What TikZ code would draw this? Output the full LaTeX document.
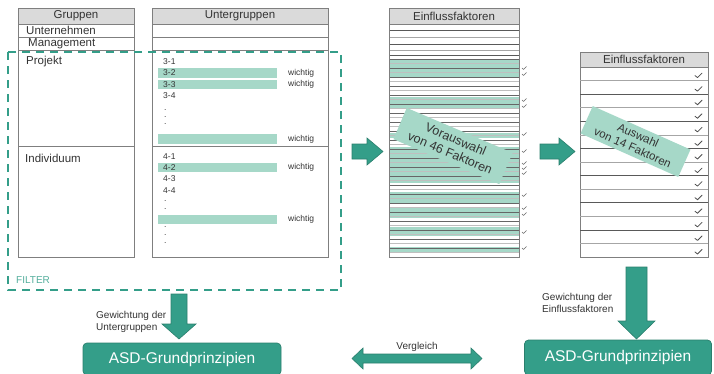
\documentclass[tikz,border=0pt]{standalone}
\usepackage{fontspec}
\setmainfont{Liberation Sans}
\definecolor{tealA}{HTML}{349E89}
\definecolor{tealD}{HTML}{2A7F6D}
\definecolor{lgreen}{HTML}{A6D8C8}
\definecolor{hdr}{HTML}{DADADA}
\definecolor{bord}{HTML}{7F7F7F}
\definecolor{txt}{HTML}{333333}
\begin{document}
\begin{tikzpicture}[x=1pt,y=-1pt,
  tbl/.style={draw=bord, line width=0.8pt},
  hdrtxt/.style={font=\fontsize{11.5}{13}\selectfont, text=txt, inner sep=0},
  lbl/.style={font=\fontsize{11.5}{13}\selectfont, text=txt, anchor=west, inner sep=0},
  small/.style={font=\fontsize{8.5}{10}\selectfont, text=txt, anchor=west, inner sep=0},
  bar/.style={fill=lgreen, draw=none},
  blockarrow/.style={fill=tealA, draw=tealD, line width=0.6pt},
  rotbox/.style={fill=lgreen, align=center, text=txt, inner sep=0},
  asd/.style={fill=tealA, draw=tealD, line width=0.7pt, rounded corners=4pt, text=white, font=\fontsize{15.5}{17}\selectfont},
  chk/.style={draw=black!60, line width=0.6pt, line cap=round, line join=round},
  bigchk/.style={draw=black!70, line width=0.8pt, line cap=round, line join=round},
  note/.style={font=\fontsize{10}{12.5}\selectfont, text=txt, align=left, inner sep=0}
]
\useasboundingbox (0,0) rectangle (714,373);

% ---------------- Gruppen table
\draw[tbl, fill=hdr] (18,8) rectangle (134,24);
\node[hdrtxt] (hG) at (76,16) {Gruppen};
\draw[tbl] (18,24) rectangle (134,257);
\foreach \yy in {37,50,146} \draw[tbl] (18,\yy) -- (134,\yy);
\node[lbl] (gU) at (26,30.5) {Unternehmen};
\node[lbl] (gM) at (28,44) {Management};
\node[lbl] (gP) at (26,62) {Projekt};
\node[lbl] (gI) at (25,158) {Individuum};

% ---------------- Untergruppen table
\draw[tbl, fill=hdr] (152,8) rectangle (328,24);
\node[hdrtxt] (hU) at (240,16) {Untergruppen};
\draw[tbl] (152,24) rectangle (328,257);
\foreach \yy in {37,50,146} \draw[tbl] (152,\yy) -- (328,\yy);
% bars
\fill[bar] (158,68) rectangle (277,78);
\fill[bar] (158,79.5) rectangle (277,89);
\fill[bar] (158,134) rectangle (277,144);
\fill[bar] (158,163) rectangle (277,172);
\fill[bar] (158,215) rectangle (277,223.5);
\node[small] (s31) at (163,62) {3-1};
\node[small] (s32) at (163,73) {3-2};
\node[small] (s33) at (163,84.5) {3-3};
\node[small] (s34) at (163,96) {3-4};
\foreach \yy/\nm in {110/d1,117/d2,124/d3} \node[small] (\nm) at (164,\yy) {.};
\node[small] (w1) at (288,73) {wichtig};
\node[small] (w2) at (288,84.5) {wichtig};
\node[small] (w3) at (288,139) {wichtig};
\node[small] (s41) at (163,157) {4-1};
\node[small] (s42) at (163,167.5) {4-2};
\node[small] (s43) at (163,179) {4-3};
\node[small] (s44) at (163,191) {4-4};
\foreach \yy/\nm in {201/e1,209/e2,227/e3,235/e4,243/e5} \node[small] (\nm) at (164,\yy) {.};
\node[small] (w4) at (288,167.5) {wichtig};
\node[small] (w5) at (288,219) {wichtig};

% ---------------- FILTER dashed box
\draw[tealA, line width=2.2pt, dash pattern=on 8pt off 6pt] (8,52) rectangle (341,290);
\node[font=\fontsize{10}{12}\selectfont, text=tealA!85, anchor=west, inner sep=0] (filt) at (16,280.5) {FILTER};

% ---------------- arrow 1
\draw[blockarrow] (352,144) -- (367,144) -- (367,138) -- (383,151.5) -- (367,165) -- (367,159) -- (352,159) -- cycle;

% ---------------- middle table (46)
\fill[lgreen] (389,59) rectangle (519,78);
\fill[lgreen] (389,97) rectangle (519,109);
\fill[lgreen] (389,133) rectangle (519,138);
\fill[lgreen] (389,147) rectangle (519,183);
\fill[lgreen] (389,192) rectangle (519,204);
\fill[lgreen] (389,207) rectangle (519,218);
\fill[lgreen] (389,227) rectangle (519,236);
\fill[lgreen] (389,247) rectangle (519,252);
\foreach \yy in {30.5,44,55} \draw[black!65, line width=0.6pt] (389,\yy) -- (519,\yy);
\foreach \yy in {37,50} \draw[black!35, line width=0.6pt] (389,\yy) -- (519,\yy);
\foreach \k in {0,...,21} {
  \draw[black!60, line width=0.55pt] (389,59+9*\k) -- (519,59+9*\k);
  \draw[black!25, line width=0.5pt] (389,63.5+9*\k) -- (519,63.5+9*\k);
}
\draw[tbl, fill=hdr] (389,8) rectangle (519,24);
\node[hdrtxt] (hE1) at (454,16) {Einflussfaktoren};
\draw[tbl] (389,24) rectangle (519,257);
\foreach \yy in {68,74,100,106,134,151,163,168,173,195,208,214,232,248}
  \draw[chk] (522,\yy) -- (523.5,\yy+1.5) -- (526.5,\yy-1.5);
\node[rotbox, rotate=-23, minimum width=115pt, minimum height=34pt,
  font=\fontsize{12.5}{14.5}\selectfont] (vor) at (453,146) {Vorauswahl\\von 46 Faktoren};

% ---------------- arrow 2
\draw[blockarrow] (540,144) -- (559,144) -- (559,138) -- (575,151.5) -- (559,165) -- (559,159) -- (540,159) -- cycle;

% ---------------- right table (14)
\draw[tbl, fill=hdr] (580,52) rectangle (708,67);
\node[hdrtxt] (hE2) at (644,59.5) {Einflussfaktoren};
\draw[tbl] (580,67) rectangle (708,257);
\foreach \k in {1,...,13} {
  \pgfmathsetmacro{\yy}{67+\k*13.571}
  \ifodd\k
    \draw[black!35, line width=0.7pt] (580,\yy) -- (708,\yy);
  \else
    \draw[black!65, line width=0.7pt] (580,\yy) -- (708,\yy);
  \fi
}
\foreach \k in {1,...,14} {
  \pgfmathsetmacro{\yy}{67+\k*13.571-5}
  \draw[bigchk] (695,\yy) -- (697.5,\yy+2) -- (702,\yy-2.5);
}
\node[rotbox, rotate=-24, minimum width=107pt, minimum height=30pt,
  font=\fontsize{11.5}{13.5}\selectfont] (ausw) at (635.5,141.5) {Auswahl\\von 14 Faktoren};

% ---------------- bottom
\node[asd, minimum width=198pt, minimum height=32pt] (asdL) at (182,359) {ASD-Grundprinzipien};
\node[asd, minimum width=187pt, minimum height=35pt] (asdR) at (618,357.5) {ASD-Grundprinzipien};

% down arrow left
\draw[blockarrow] (171,294) -- (187,294) -- (187,324) -- (196,324) -- (179,339) -- (162,324) -- (171,324) -- cycle;
\node[note, anchor=north west] (gwL) at (96,311) {Gewichtung der\\Untergruppen};

% down arrow right
\draw[blockarrow] (626,267) -- (647,267) -- (647,321) -- (655,321) -- (636.5,339) -- (618,321) -- (626,321) -- cycle;
\node[note, anchor=north west] (gwR) at (542,293) {Gewichtung der\\Einflussfaktoren};

% double arrow
\draw[blockarrow] (352,358.5) -- (363,348) -- (363,354) -- (471,354) -- (471,348) -- (482,358.5) -- (471,369) -- (471,363) -- (363,363) -- (363,369) -- cycle;
\node[font=\fontsize{10}{12}\selectfont, text=txt, inner sep=0] (vgl) at (417,346.5) {Vergleich};
\end{tikzpicture}
\end{document}
